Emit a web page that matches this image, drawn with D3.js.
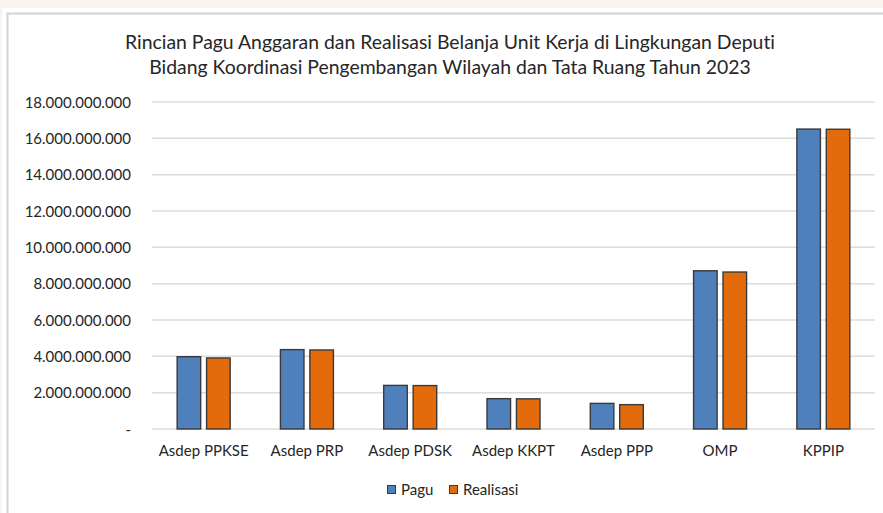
<!DOCTYPE html>
<html>
<head>
<meta charset="utf-8">
<script src="https://cdn.jsdelivr.net/npm/d3@7"></script>
<style>
  html, body { margin: 0; padding: 0; background: #f9f5ee; }
  svg { display: block; }
  text { font-variant-ligatures: none; font-feature-settings: "liga" 0, "clig" 0; }
</style>
</head>
<body>
<svg id="chart" width="883" height="513"></svg>
<script>
// Budget ceiling (Pagu) vs. realised spending per work unit, 2023 (Rupiah)
const categories = ["Asdep PPKSE", "Asdep PRP", "Asdep PDSK", "Asdep KKPT", "Asdep PPP", "OMP", "KPPIP"];
const pagu      = [3980000000, 4370000000, 2400000000, 1670000000, 1410000000, 8710000000, 16510000000];
const realisasi = [3910000000, 4350000000, 2390000000, 1660000000, 1340000000, 8640000000, 16500000000];
const seriesNames = ["Pagu", "Realisasi"];
const yTicks = [0, 2e9, 4e9, 6e9, 8e9, 10e9, 12e9, 14e9, 16e9, 18e9];
const titleLines = [
  "Rincian Pagu Anggaran dan Realisasi Belanja Unit Kerja di Lingkungan Deputi",
  "Bidang Koordinasi Pengembangan Wilayah dan Tata Ruang Tahun 2023"
];

const colors = { "Pagu": "#4f80bc", "Realisasi": "#e46b0b" };
const font = "Lato, 'Open Sans', sans-serif";
const textColor = "#262626";
const labelSize = 15;

const svg = d3.select("#chart");

// white chart panel with a thin grey frame
svg.append("rect").attr("x", 2).attr("y", 8).attr("width", 881).attr("height", 505).attr("fill", "#ffffff");
svg.append("path")
  .attr("d", "M7.5,513 V13.5 H883")
  .attr("fill", "none").attr("stroke", "#d4d4d4").attr("stroke-width", 2);

// title
svg.append("text")
  .attr("x", 450).attr("y", 49)
  .attr("text-anchor", "middle")
  .attr("font-family", font).attr("font-size", 19.4).attr("fill", textColor)
  .selectAll("tspan").data(titleLines).join("tspan")
  .attr("x", 450).attr("dy", (d, i) => i ? 25 : 0)
  .text(d => d);

const plot = { left: 152, right: 875, top: 102, bottom: 429 };

const y = d3.scaleLinear().domain([0, 18e9]).range([plot.bottom, plot.top]);
const x = d3.scaleBand().domain(categories).range([plot.left, plot.right]).paddingInner(0).paddingOuter(0);
const groupWidth = 53;
const xs = d3.scaleBand().domain(seriesNames).range([0, groupWidth]).paddingInner(0.2);

const idLocale = d3.formatLocale({ decimal: ",", thousands: ".", grouping: [3], currency: ["Rp", ""] });
const fmt = idLocale.format(",.0f");

// gridlines
svg.append("g")
  .selectAll("line").data(yTicks).join("line")
  .attr("x1", plot.left).attr("x2", plot.right)
  .attr("y1", d => y(d)).attr("y2", d => y(d))
  .attr("stroke", "#dcdcdc").attr("stroke-width", 1.5);

// y axis labels
const yAxis = d3.axisLeft(y).tickValues(yTicks).tickSize(0).tickPadding(0)
  .tickFormat(d => d === 0 ? "-" : fmt(d));
const gy = svg.append("g").attr("transform", `translate(131,0)`).call(yAxis);
gy.select(".domain").remove();
gy.selectAll("text")
  .attr("font-family", font).attr("font-size", labelSize).attr("fill", textColor)
  .attr("dy", "0.35em");

// bars
const rows = categories.map((c, i) => ({ cat: c, values: [
  { key: "Pagu", value: pagu[i] },
  { key: "Realisasi", value: realisasi[i] }
]}));

const groups = svg.append("g").selectAll("g").data(rows).join("g")
  .attr("transform", d => `translate(${x(d.cat) + x.bandwidth() / 2 - groupWidth / 2},0)`);

groups.selectAll("rect").data(d => d.values).join("rect")
  .attr("x", d => xs(d.key))
  .attr("width", xs.bandwidth())
  .attr("y", d => y(d.value))
  .attr("height", d => y(0) - y(d.value))
  .attr("fill", d => colors[d.key])
  .attr("stroke", "#3a3a3a").attr("stroke-width", 1.4);

// x axis labels
const xAxis = d3.axisBottom(x).tickSize(0).tickPadding(0);
const gx = svg.append("g").attr("transform", `translate(0,451)`).call(xAxis);
gx.select(".domain").remove();
gx.selectAll("text")
  .attr("font-family", font).attr("font-size", labelSize).attr("fill", textColor)
  .attr("dy", "0.35em");

// legend
const legendItems = [
  { key: "Pagu", x: 387 },
  { key: "Realisasi", x: 449 }
];
const lg = svg.append("g").selectAll("g").data(legendItems).join("g")
  .attr("transform", d => `translate(${d.x},490)`);
lg.append("rect")
  .attr("x", 0.5).attr("y", -4.5).attr("width", 8).attr("height", 8)
  .attr("fill", d => colors[d.key]).attr("stroke", "#3a3a3a").attr("stroke-width", 1);
lg.append("text")
  .attr("x", 14).attr("y", 0).attr("dy", "0.35em")
  .attr("font-family", font).attr("font-size", labelSize).attr("fill", textColor)
  .text(d => d.key);
</script>
</body>
</html>
